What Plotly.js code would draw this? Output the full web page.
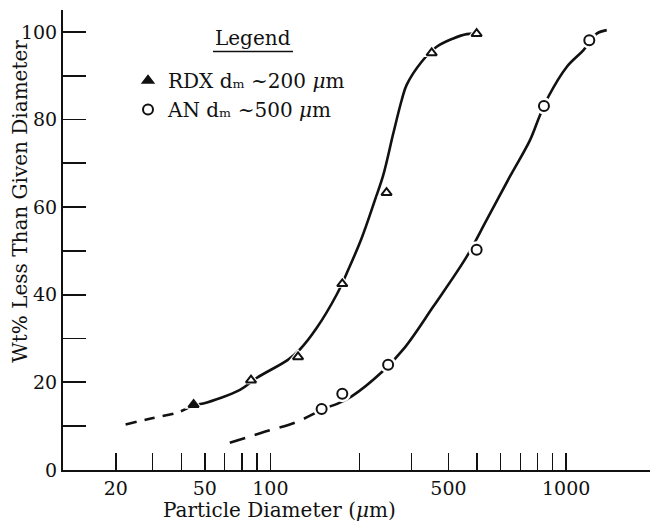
<!DOCTYPE html>
<html>
<head>
<meta charset="utf-8">
<script src="https://cdn.plot.ly/plotly-3.0.1.min.js"></script>
<style>html,body{margin:0;padding:0;background:#fff;}#chart{width:650px;height:526px;}</style>
</head>
<body>
<div id="chart"></div>
<script>
// ---- data ----
// measured points
const rdxX = [55, 86, 124, 175, 247, 351, 498];
const rdxY = [14.9, 20.5, 25.8, 42.5, 63.3, 95.2, 99.6];
const anX = [149, 175, 250, 498, 841, 1197];
const anY = [13.9, 17.4, 24.0, 50.3, 83.1, 98.1];

// hand-drawn fitted curves
const rdxDashX = [32.4, 39.1, 49.4, 55];
const rdxDashY = [10.4, 11.7, 13.3, 14.9];
const rdxCurveX = [55, 59.3, 78.9, 89.8, 114.9, 125.8, 143.3, 167.4, 183.3, 203.4, 225.6, 240.7, 260.2, 277.8, 288.8, 324.6, 364.9, 415.2, 460.9, 498];
const rdxCurveY = [14.9, 15.2, 18.3, 21.0, 25.2, 27.5, 32.4, 40.0, 45.7, 52.9, 61.6, 67.3, 76.8, 84.4, 87.9, 93.2, 96.6, 98.5, 99.5, 99.6];
const anDashX = [72.9, 93.4, 121.0, 137.8, 149];
const anDashY = [6.2, 8.5, 10.8, 12.6, 13.9];
const anCurveX = [149, 169.6, 188.2, 237.7, 285.0, 355.3, 460.9, 538.4, 645.4, 754.4, 815.3, 870.0, 1004, 1142, 1268, 1371];
const anCurveY = [13.9, 15.2, 16.8, 22.3, 28.0, 37.3, 48.7, 57.1, 67.0, 75.3, 81.0, 85.2, 92.0, 95.8, 99.6, 100.4];

// axis ticks as drawn on the reference
const xTickVals = [30, 40, 50, 60, 70, 80, 90, 100, 200, 300, 400, 500, 600, 700, 800, 900, 1000];
const xTickText = ['20', '', '', '50', '', '', '', '100', '', '', '500', '', '', '', '', '', '1000'];
const yTickVals = [0, 10, 20, 30, 40, 50, 60, 70, 80, 90, 100];
const yTickText = ['0', '', '20', '', '40', '', '60', '', '80', '', '100'];

const seriesNames = ['RDX d\u2098 ~200 <i>μ</i>m', 'AN d\u2098 ~500 <i>μ</i>m'];

// ---- plot ----
const FONT = 'DejaVu Serif';
const INK = '#111';
const rdxFill = rdxX.map((_, i) => i === 0 ? INK : '#fff');

const lineStyle = {color: INK, width: 2.6, shape: 'spline', smoothing: 1};
const traces = [
  {x: rdxDashX, y: rdxDashY, mode: 'lines', line: Object.assign({}, lineStyle, {dash: '11px,8px'}), showlegend: false, hoverinfo: 'skip'},
  {x: rdxCurveX, y: rdxCurveY, mode: 'lines', line: lineStyle, showlegend: false, hoverinfo: 'skip'},
  {x: anDashX, y: anDashY, mode: 'lines', line: Object.assign({}, lineStyle, {dash: '16px,10px'}), showlegend: false, hoverinfo: 'skip'},
  {x: anCurveX, y: anCurveY, mode: 'lines', line: lineStyle, showlegend: false, hoverinfo: 'skip'},
  // white halos around markers (gaps in the drawn line)
  {x: rdxX, y: rdxY, mode: 'markers', marker: {symbol: 'triangle-up', size: 16, color: '#fff'}, showlegend: false, hoverinfo: 'skip'},
  {x: anX, y: anY, mode: 'markers', marker: {symbol: 'circle', size: 17, color: '#fff'}, showlegend: false, hoverinfo: 'skip'},
  {x: rdxX, y: rdxY, name: seriesNames[0], mode: 'markers',
   marker: {symbol: 'triangle-up', size: 9, color: rdxFill, line: {color: INK, width: 2}}},
  {x: anX, y: anY, name: seriesNames[1], mode: 'markers',
   marker: {symbol: 'circle', size: 10, color: '#fff', line: {color: INK, width: 2}}}
];

const L = 63, R = 650, T = 10, B = 470.5;
const px = v => (v - L) / (R - L);
const py = v => (B - v) / (B - T);

const layout = {
  width: 650, height: 526,
  margin: {l: L, r: 0, t: T, b: 526 - B, pad: 0},
  paper_bgcolor: '#fff', plot_bgcolor: '#fff',
  font: {family: FONT, size: 20, color: INK},
  showlegend: true,
  legend: {x: px(128), y: py(61), xanchor: 'left', yanchor: 'top', bgcolor: 'rgba(0,0,0,0)',
           font: {family: FONT, size: 20, color: INK}, itemwidth: 30, tracegroupgap: 0},
  xaxis: {type: 'log', range: [Math.log10(19.9), Math.log10(1920)],
          tickmode: 'array', tickvals: xTickVals, ticktext: xTickText,
          ticks: 'inside', ticklen: 17, tickwidth: 1.6, tickcolor: INK,
          showline: true, linewidth: 2, linecolor: INK, showgrid: false, zeroline: false,
          tickfont: {family: FONT, size: 19, color: INK}},
  yaxis: {range: [0, 105], tickmode: 'array', tickvals: yTickVals, ticktext: yTickText,
          ticks: 'inside', ticklen: 23, tickwidth: 1.8, tickcolor: INK,
          showline: true, linewidth: 2, linecolor: INK, showgrid: false, zeroline: false,
          tickfont: {family: FONT, size: 19, color: INK}},
  annotations: [
    {xref: 'paper', yref: 'paper', x: px(253), y: py(38), text: 'Legend', showarrow: false,
     xanchor: 'center', yanchor: 'middle', font: {family: FONT, size: 20, color: INK}},
    {xref: 'paper', yref: 'paper', x: px(279), y: py(511), text: 'Particle Diameter (<i>μ</i>m)', showarrow: false,
     xanchor: 'center', yanchor: 'middle', font: {family: FONT, size: 20, color: INK}},
    {xref: 'paper', yref: 'paper', x: px(20), y: py(202), text: 'Wt% Less Than Given Diameter', showarrow: false,
     textangle: -90, xanchor: 'center', yanchor: 'middle', font: {family: FONT, size: 20, color: INK}}
  ],
  shapes: [
    {type: 'line', xref: 'paper', yref: 'paper', x0: px(213), x1: px(293), y0: py(51.5), y1: py(51.5),
     line: {color: INK, width: 1.6}}
  ]
};

Plotly.newPlot('chart', traces, layout, {displayModeBar: false, staticPlot: true});
</script>
</body>
</html>
